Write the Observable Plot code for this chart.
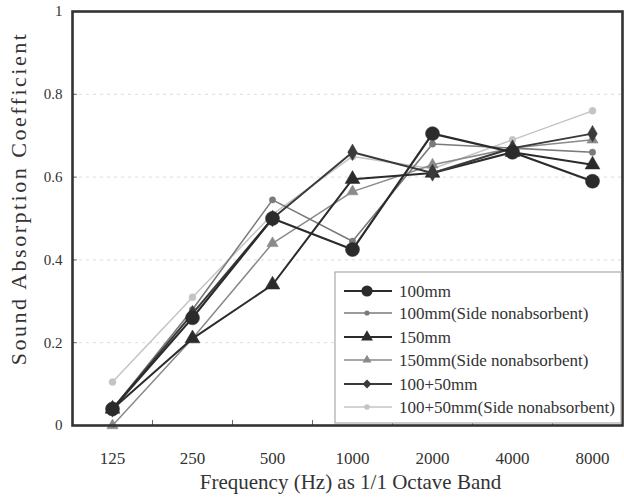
<!DOCTYPE html>
<html>
<head>
<meta charset="utf-8">
<script src="https://cdn.jsdelivr.net/npm/d3@7"></script>
<script src="https://cdn.jsdelivr.net/npm/@observablehq/plot@0.6"></script>
<style>
  html, body { margin: 0; padding: 0; background: white; }
  #chart { width: 624px; height: 499px; }
</style>
</head>
<body>
<div id="chart"></div>
<script>
const categories = ["125", "250", "500", "1000", "2000", "4000", "8000"];
const seriesNames = [
  "100mm",
  "100mm(Side nonabsorbent)",
  "150mm",
  "150mm(Side nonabsorbent)",
  "100+50mm",
  "100+50mm(Side nonabsorbent)"
];
const v100 = [0.04, 0.26, 0.50, 0.425, 0.705, 0.66, 0.59];
const v100side = [0.04, 0.28, 0.545, 0.445, 0.68, 0.67, 0.66];
const v150 = [0.04, 0.21, 0.34, 0.595, 0.61, 0.66, 0.63];
const v150side = [0.0, 0.21, 0.44, 0.565, 0.63, 0.67, 0.69];
const v10050 = [0.04, 0.27, 0.50, 0.66, 0.61, 0.67, 0.705];
const v10050side = [0.105, 0.31, 0.51, 0.65, 0.62, 0.69, 0.76];
const yTicks = [0, 0.2, 0.4, 0.6, 0.8, 1];

const styles = [
  { stroke: "#2b2b2b", width: 2.2, symbol: "circle", r: 7 },
  { stroke: "#7a7a7a", width: 1.6, symbol: "circle", r: 3.2 },
  { stroke: "#2b2b2b", width: 2.0, symbol: "triangle", r: 5.5 },
  { stroke: "#8a8a8a", width: 1.5, symbol: "triangle", r: 4.2 },
  { stroke: "#3a3a3a", width: 2.0, symbol: "diamond", r: 5 },
  { stroke: "#c4c4c4", width: 1.5, symbol: "circle", r: 3.5 }
];
const allValues = [v100, v100side, v150, v150side, v10050, v10050side];

const series = seriesNames.map((name, k) => ({
  name,
  style: styles[k],
  rows: allValues[k].map((v, i) => ({ i, v, name }))
}));

// draw order: lighter ones first
const order = [5, 3, 1, 2, 4, 0];
const serif = "'Liberation Serif', 'DejaVu Serif', serif";

const marks = [
  Plot.ruleY([0.2, 0.4, 0.6, 0.8], { stroke: "#ddd", strokeDasharray: "3,4", strokeWidth: 1 }),
  Plot.ruleX(d3.range(0, 6).map(i => i + 0.5), { x: d => d, y1: 0, y2: 0.012, stroke: "#666" }),
  Plot.ruleY(yTicks.slice(1, 5), { x1: -0.5, x2: -0.44, stroke: "#666" }),
  Plot.axisX(d3.range(0, 7), { tickFormat: i => categories[i], tickSize: 0, tickPadding: 26, fontSize: 17, label: null, fill: "#333" }),
  Plot.axisY(yTicks, { tickFormat: d => d === 0 ? "0" : d === 1 ? "1" : d.toFixed(1), tickSize: 0, tickPadding: 10, fontSize: 15, label: null, fill: "#333" })
];
for (const k of order) {
  const s = series[k];
  marks.push(Plot.line(s.rows, { x: "i", y: "v", stroke: s.style.stroke, strokeWidth: s.style.width }));
  marks.push(Plot.dot(s.rows, { x: "i", y: "v", symbol: () => s.style.symbol, r: s.style.r, fill: s.style.stroke, stroke: s.style.stroke, strokeWidth: 0.5 }));
}
marks.push(Plot.frame({ stroke: "#333", strokeWidth: 2.6 }));
marks.push(Plot.text(["Sound Absorption Coefficient"], { frameAnchor: "left", textAnchor: "middle", dx: -54, dy: -20, rotate: -90, fontSize: 22, fill: "#333" }));
marks.push(Plot.text(["Frequency (Hz) as 1/1 Octave Band"], { frameAnchor: "bottom", dy: 63, dx: 3, fontSize: 21, fill: "#333" }));

const chart = Plot.plot({
  width: 624,
  height: 499,
  marginLeft: 72,
  marginRight: 2,
  marginTop: 11,
  marginBottom: 74,
  style: { fontFamily: serif, fontSize: "15px", color: "#333", background: "white" },
  symbol: { type: "identity" },
  x: { domain: [-0.5, 6.375] },
  y: { domain: [0, 1] },
  marks
});
document.getElementById("chart").appendChild(chart);

const svg = d3.select(chart);
// widen the rotated y title
svg.selectAll("text").filter(function () { return this.textContent === "Sound Absorption Coefficient"; })
  .style("letter-spacing", "2.5px");

// Legend (layout drawn inside the svg)
const lg = svg.append("g")
  .attr("font-family", serif)
  .attr("font-size", 17).attr("fill", "#333").attr("text-anchor", "start");
const lx = 335, ly = 272, lw = 286, lh = 151;
lg.append("rect").attr("x", lx).attr("y", ly).attr("width", lw).attr("height", lh)
  .attr("fill", "white").attr("stroke", "#aaa").attr("stroke-width", 1.2);
const rowY = [291, 313, 337, 360, 384, 407];
const symMap = { circle: d3.symbolCircle, triangle: d3.symbolTriangle, diamond: d3.symbolDiamond2 };
series.forEach((s, k) => {
  const y = rowY[k];
  lg.append("line").attr("x1", 344).attr("x2", 392).attr("y1", y).attr("y2", y)
    .attr("stroke", s.style.stroke).attr("stroke-width", s.style.width);
  const size = Math.PI * (s.style.r * 0.8) * (s.style.r * 0.8);
  lg.append("path").attr("d", d3.symbol(symMap[s.style.symbol], size)())
    .attr("transform", `translate(367,${y})`).attr("fill", s.style.stroke);
  lg.append("text").attr("x", 399).attr("y", y).attr("dy", "0.35em")
    .attr("text-anchor", "start").style("text-anchor", "start").text(s.name);
});
</script>
</body>
</html>
